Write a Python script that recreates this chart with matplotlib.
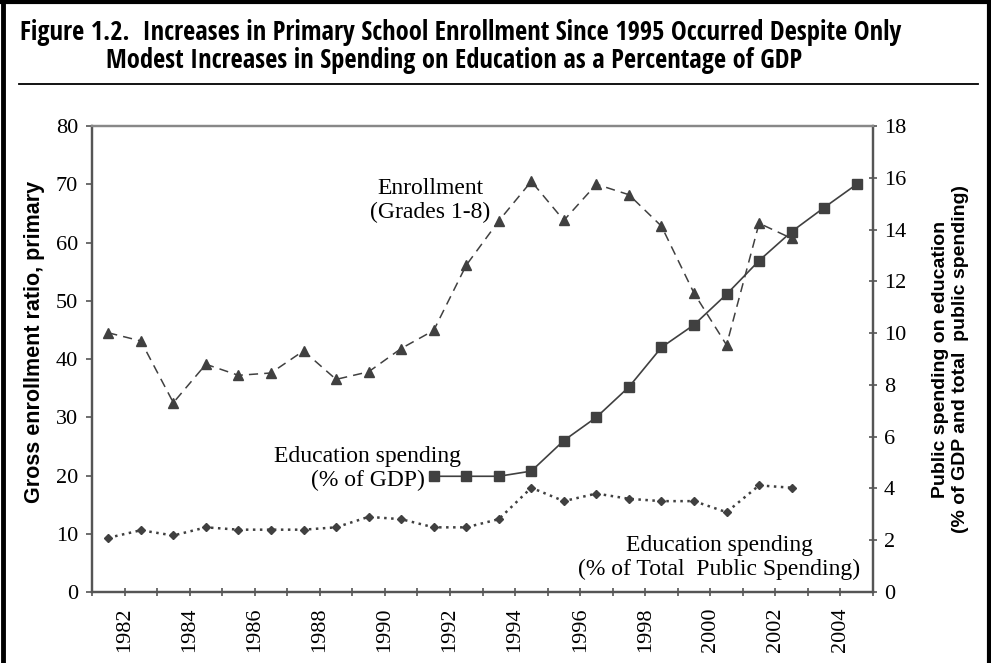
import numpy as np
import matplotlib
matplotlib.use("Agg")
import matplotlib.pyplot as plt
from matplotlib.lines import Line2D
from matplotlib import font_manager as fm

# data
years = np.arange(1981, 2005)
enroll_years = np.arange(1981, 2003)
enrollment = [44.5, 43.1, 32.5, 39.1, 37.2, 37.6, 41.4, 36.5, 37.8, 41.8, 44.9,
              56.1, 63.7, 70.5, 63.8, 70.0, 68.2, 62.8, 51.3, 42.4, 63.3, 60.7]
gdp_years = np.arange(1991, 2005)
spend_gdp = [4.47, 4.47, 4.47, 4.67, 5.85, 6.75, 7.92, 9.45, 10.32, 11.5,
             12.8, 13.92, 14.85, 15.75]
pub_years = np.arange(1981, 2003)
spend_public = [9.3, 10.6, 9.7, 11.1, 10.7, 10.7, 10.7, 11.1, 12.9, 12.5, 11.1,
                11.1, 12.5, 17.9, 15.6, 16.9, 16.0, 15.6, 15.6, 13.7, 18.3, 17.9]
tick_years = np.arange(1982, 2005, 2)

title1 = "Figure 1.2.  Increases in Primary School Enrollment Since 1995 Occurred Despite Only"
title2 = "Modest Increases in Spending on Education as a Percentage of GDP"

serif = "Liberation Serif"
sans = "Liberation Sans"
dark = "#404040"

# look for a narrow bold face for the title, if one is installed
installed = {f.name for f in fm.fontManager.ttflist}
title_family = ["DejaVu Sans"]
title_stretch = "normal"
for cand in ["Liberation Sans Narrow", "Open Sans Condensed", "Roboto Condensed",
             "DejaVu Sans Condensed", "Noto Sans Condensed"]:
    if cand in installed:
        title_family = [cand, "DejaVu Sans"]
        break
else:
    if any(f.name == "DejaVu Sans" and f.stretch == "condensed"
           for f in fm.fontManager.ttflist):
        title_stretch = "condensed"

fig = plt.figure(figsize=(9.91, 6.63), dpi=100)
W, H = 991.0, 663.0
ax = fig.add_axes([92 / W, 1 - 592 / H, (873 - 92) / W, (592 - 126) / H])
ax2 = ax.twinx()

# points sit in the middle of each year slot
ax.plot(enroll_years + 0.5, enrollment, color=dark, lw=1.1, ls=(0, (6, 4)),
        marker="^", ms=7, mfc=dark, mec=dark)
ax.plot(pub_years + 0.5, spend_public, color=dark, lw=1.8, ls=(0, (1, 1.8)),
        marker="D", ms=4.5, mfc=dark, mec=dark)
ax2.plot(gdp_years + 0.5, spend_gdp, color=dark, lw=1.2, ls="-",
         marker="s", ms=7, mfc=dark, mec=dark)

ax.set_xlim(1981, 2005)
ax.set_ylim(0, 80)
ax2.set_ylim(0, 18)
ax.set_yticks(np.arange(0, 81, 10))
ax2.set_yticks(np.arange(0, 19, 2))
ax.set_xticks(np.arange(1981, 2006), minor=True)
ax.set_xticks(tick_years)
ax.set_xticklabels([str(y) for y in tick_years], rotation=90)

for a in (ax, ax2):
    for s in a.spines.values():
        s.set_color("#555555")
        s.set_linewidth(1.6)
    a.spines["top"].set_color("#888888")

ax.tick_params(axis="y", direction="out", length=4, width=1.2, color="#555555",
               pad=6, labelsize=16)
ax2.tick_params(axis="y", direction="inout", length=6, width=1.2, color="#555555",
                pad=5, labelsize=16)
ax.tick_params(axis="x", which="both", direction="inout", length=6, width=1.2,
               color="#555555", pad=8, labelsize=16)
for lab in ax.get_xticklabels() + ax.get_yticklabels() + ax2.get_yticklabels():
    lab.set_fontfamily(serif)

ax.set_ylabel("Gross enrollment ratio, primary", fontfamily=sans,
              fontweight="bold", fontsize=15.5, va="center")
ax.yaxis.set_label_coords(-0.073, 0.536)
ax2.set_ylabel("Public spending on education\n(% of GDP and total  public spending)",
               fontfamily=sans, fontweight="bold", fontsize=14, va="center",
               ha="center")
ax2.yaxis.set_label_coords(1.099, 0.5)

ax.text(0.433, 0.840, "Enrollment\n(Grades 1-8)", transform=ax.transAxes,
        ha="center", va="center", fontfamily=serif, fontsize=17)
ax.text(0.353, 0.265, "Education spending\n(% of GDP)", transform=ax.transAxes,
        ha="center", va="center", fontfamily=serif, fontsize=17)
ax.text(0.803, 0.074, "Education spending\n(% of Total  Public Spending)",
        transform=ax.transAxes, ha="center", va="center", fontfamily=serif,
        fontsize=17)

# title block, sized so the first line spans the same width as the reference
t1 = fig.text(20 / W, 1 - 32 / H, title1, family=title_family, weight="bold",
              stretch=title_stretch, size=17, va="center")
t2 = fig.text(106 / W, 1 - 61 / H, title2, family=title_family, weight="bold",
              stretch=title_stretch, size=17, va="center")
renderer = fig.canvas.get_renderer()
w1 = t1.get_window_extent(renderer).width
size = 17 * 883.0 / w1
t1.set_fontsize(size)
t2.set_fontsize(size)

fig.add_artist(Line2D([19 / W, 978 / W], [1 - 84 / H, 1 - 84 / H],
                      color="black", lw=1.3))

# figure frame: top, left and right
fig.add_artist(Line2D([0, 1], [1 - 2 / H, 1 - 2 / H], color="black", lw=3))
fig.add_artist(Line2D([2.5 / W, 2.5 / W], [0, 1], color="black", lw=3.5))
fig.add_artist(Line2D([1 - 2 / W, 1 - 2 / W], [0, 1], color="black", lw=3))

fig.savefig("out.png", dpi=100)
